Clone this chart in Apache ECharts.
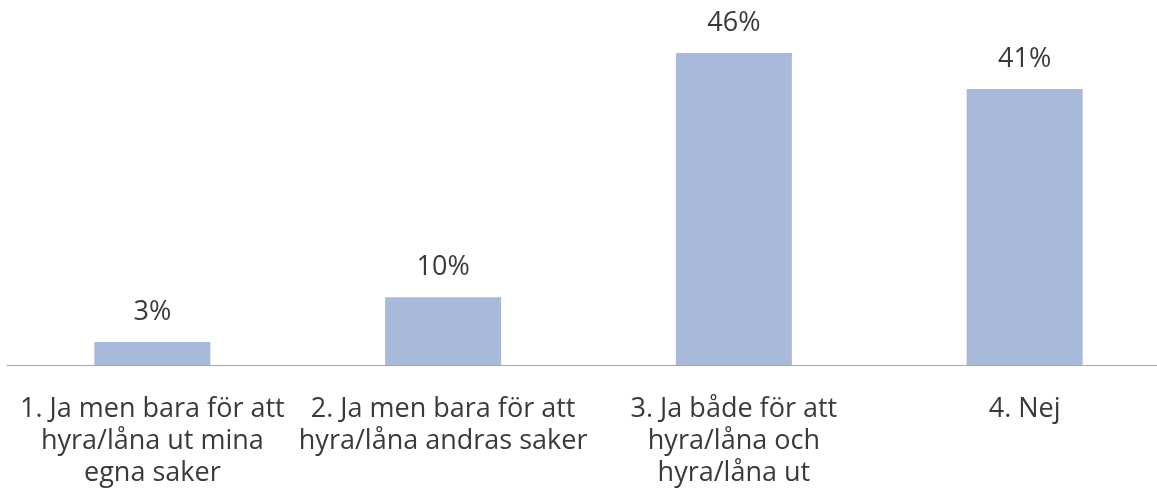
<!DOCTYPE html>
<html>
<head>
<meta charset="utf-8">
<script src="https://cdn.jsdelivr.net/npm/echarts@6/dist/echarts.min.js"></script>
<style>
  html, body { margin: 0; padding: 0; background: #fff; }
  #chart { width: 1157px; height: 497px; }
</style>
</head>
<body>
<div id="chart"></div>
<script>
// kategorier och andelar (%), avlästa från stapelhöjderna
var categories = [
  '1. Ja men bara för att\nhyra/låna ut mina\negna saker',
  '2. Ja men bara för att\nhyra/låna andras saker',
  '3. Ja både för att\nhyra/låna och\nhyra/låna ut',
  '4. Nej'
];
var values = [3.4, 10, 46, 40.7];

var chart = echarts.init(document.getElementById('chart'));
var option = {
  animation: false,
  grid: {
    left: 7,
    top: 26,
    width: 1163,
    height: 339,
    containLabel: false,
    outerBoundsMode: 'none'
  },
  xAxis: {
    type: 'category',
    data: categories,
    axisLine: { lineStyle: { color: '#a6a6a6', width: 1 } },
    axisTick: { show: false },
    axisLabel: {
      interval: 0,
      margin: 28,
      fontFamily: 'Open Sans',
      fontSize: 27,
      lineHeight: 32,
      color: '#3a3a3a'
    }
  },
  yAxis: {
    type: 'value',
    min: 0,
    max: 50,
    show: false,
    splitLine: { show: false }
  },
  series: [{
    type: 'bar',
    data: values,
    barWidth: 116,
    itemStyle: { color: '#a9b9d9' },
    label: {
      show: true,
      position: 'top',
      distance: 16,
      formatter: function (p) { return Math.round(p.value) + '%'; },
      fontFamily: 'Open Sans',
      fontSize: 27,
      color: '#3a3a3a'
    }
  }]
};
chart.setOption(option);
</script>
</body>
</html>
